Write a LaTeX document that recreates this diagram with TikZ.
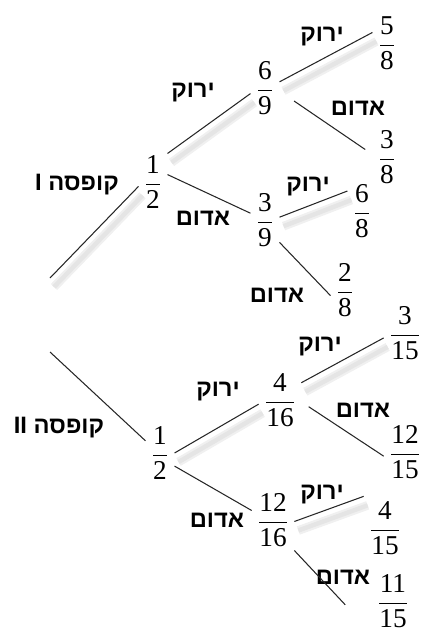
\documentclass[tikz,border=0pt]{standalone}
\usepackage{amsmath}
\usepackage{fontspec}
\setmainfont{Liberation Serif}
\newfontfamily\hebfont[Script=Hebrew]{Liberation Sans}
\TeXXeTstate=1
\usepackage{tikz}

\newcommand{\fr}[2]{$\dfrac{\mbox{#1}}{\mbox{#2}}$}
\newcommand{\heb}[1]{\beginR #1\endR}

\begin{document}
\begin{tikzpicture}[x=0.02cm,y=-0.02cm,
		frac/.style={inner sep=3pt,font=\fontsize{15.5}{18}\selectfont},
		lbl/.style={inner sep=1pt,font=\hebfont\bfseries\fontsize{13.5}{16}\selectfont},
		branch/.style={draw=black!85,line width=0.6pt},
		lit/.style={preaction={draw=black!6,line width=5pt,transform canvas={shift={(4,9)}}},
			preaction={draw=black!10,line width=2.5pt,transform canvas={shift={(4,9)}}}}]
		\useasboundingbox (0,0) rectangle (422,637);

		% box I
		\coordinate (root1) at (50,278);
		\node[lbl] (box1) at (77,185) {\heb{קופסה I}};
		\node[frac] (half1) at (153,182) {\fr{1}{2}};
		\node[frac] (six9) at (265,88) {\fr{6}{9}};
		\node[frac] (three9) at (265,220) {\fr{3}{9}};
		\node[frac] (five8) at (387,43) {\fr{5}{8}};
		\node[frac] (three8) at (387,157) {\fr{3}{8}};
		\node[frac] (six8) at (362,211) {\fr{6}{8}};
		\node[frac] (two8) at (345,290) {\fr{2}{8}};

		\node[lbl] (grnA) at (193,93) {\heb{ירוק}};
		\node[lbl] (redA) at (203,218) {\heb{אדום}};
		\node[lbl] (grnB) at (322,37) {\heb{ירוק}};
		\node[lbl] (redB) at (358,108) {\heb{אדום}};
		\node[lbl] (grnC) at (308,187) {\heb{ירוק}};
		\node[lbl] (redC) at (277,295) {\heb{אדום}};

		\draw[branch,lit] (root1) -- (half1.197);
		\draw[branch,lit] (half1.63) -- (six9.201);
		\draw[branch] (half1.27) -- (three9.155);
		\draw[branch,lit] (six9.23) -- (five8.144);
		\draw[branch,shorten <=10pt,shorten >=5pt] (six9.-12) -- (three8.170);
		\draw[branch,lit] (three9.11) -- (six8.126);
		\draw[branch] (three9.-57) -- (two8.201);

		% box II
		\coordinate (root2) at (50,352);
		\node[lbl] (box2) at (59,428) {\heb{קופסה II}};
		\node[frac] (half2) at (160,453) {\fr{1}{2}};
		\node[frac] (four16) at (280,400) {\fr{4}{16}};
		\node[frac] (twelve16) at (273,520) {\fr{12}{16}};
		\node[frac] (three15) at (405,333) {\fr{3}{15}};
		\node[frac] (twelve15) at (405,452) {\fr{12}{15}};
		\node[frac] (four15) at (385,528) {\fr{4}{15}};
		\node[frac] (eleven15) at (393,601) {\fr{11}{15}};

		\node[lbl] (grnD) at (218,392) {\heb{ירוק}};
		\node[lbl] (redD) at (217,520) {\heb{אדום}};
		\node[lbl] (grnE) at (320,347) {\heb{ירוק}};
		\node[lbl] (redE) at (363,410) {\heb{אדום}};
		\node[lbl] (grnF) at (322,495) {\heb{ירוק}};
		\node[lbl] (redF) at (343,577) {\heb{אדום}};

		\draw[branch] (root2) -- (half2.140);
		\draw[branch,lit] (half2.east) -- (four16.191);
		\draw[branch] (half2.-42) -- (twelve16.156);
		\draw[branch,lit] (four16.39) -- (three15.193);
		\draw[branch,shorten <=5pt] (four16.-5) -- (twelve15.191);
		\draw[branch,lit] (twelve16.-4) -- (four15.124);
		\draw[branch,shorten >=22pt] (twelve16.-55) -- (eleven15.south west);
	\end{tikzpicture}
\end{document}
